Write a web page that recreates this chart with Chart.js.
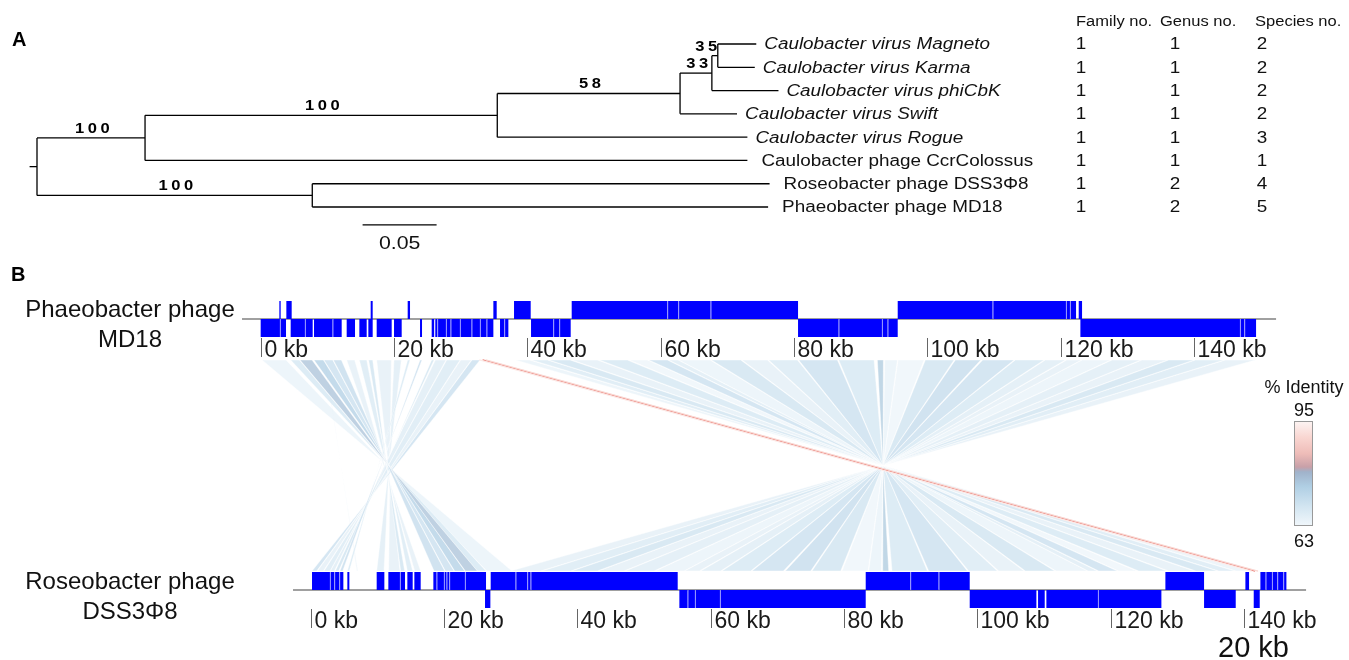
<!DOCTYPE html>
<html>
<head>
<meta charset="utf-8">
<script src="https://cdn.jsdelivr.net/npm/chart.js@4.4.0/dist/chart.umd.min.js"></script>
<style>
  html, body { margin: 0; padding: 0; background: #fff; }
  #wrap { width: 1349px; height: 660px; }
</style>
</head>
<body>
<div id="wrap"><canvas id="fig" width="1349" height="660"></canvas></div>
<script>
// ---------- panel A : tree ----------
const taxa = [
  "Caulobacter virus Magneto", "Caulobacter virus Karma", "Caulobacter virus phiCbK",
  "Caulobacter virus Swift", "Caulobacter virus Rogue", "Caulobacter phage CcrColossus",
  "Roseobacter phage DSS3\u03A68", "Phaeobacter phage MD18"
];
const tipLen = [0.486, 0.485, 0.501, 0.473, 0.480, 0.480, 0.495, 0.494];
// internal nodes get ids 8..14, children listed by id
const nodeKids = [[0, 1], [8, 2], [9, 3], [10, 4], [11, 5], [6, 7], [12, 13]];
const nodeDist = [0.460, 0.456, 0.4345, 0.311, 0.073, 0.186, 0];
const nodeBoot = [35, 33, 58, 100, 100, 100, null];
const scaleBar = [0.22, 0.27];
const tableHead = ["Family no.", "Genus no.", "Species no."];
const familyNo = [1, 1, 1, 1, 1, 1, 1, 1];
const genusNo = [1, 1, 1, 1, 1, 1, 2, 2];
const speciesNo = [2, 2, 2, 2, 3, 1, 4, 5];

// ---------- panel B : genome alignment (kb) ----------
const kbTicks = [0, 20, 40, 60, 80, 100, 120, 140];
const md18Span = [-2.8, 152.3];
const dssSpan = [-2.65, 149.3];
const md18Fwd = [[2.8, 3.0], [3.85, 4.65], [16.5, 16.8], [22.05, 22.4], [34.9, 35.4], [38.0, 40.5],
  [46.65, 61.0], [61.05, 62.65], [62.7, 67.5], [67.55, 80.6], [95.55, 109.8], [109.85, 120.8],
  [120.85, 121.4], [121.45, 122.3], [122.7, 123.2]];
const md18Rev = [[0, 2.9], [2.95, 3.8], [4.5, 6.65], [6.7, 7.8], [8.0, 10.8], [10.85, 12.15],
  [12.9, 14.15], [14.8, 15.9], [16.15, 16.8], [17.4, 19.65], [20.0, 21.15], [23.9, 24.2],
  [25.65, 26.0], [26.15, 26.5], [26.55, 27.8], [27.85, 28.5], [28.55, 29.9], [29.95, 31.65],
  [31.7, 32.9], [32.95, 33.9], [33.95, 34.9], [35.9, 36.55], [36.6, 37.15], [40.55, 43.9],
  [43.95, 44.8], [44.85, 46.5], [80.6, 86.7], [86.75, 93.2], [93.25, 94.05], [94.1, 95.55],
  [122.95, 146.9], [146.95, 147.55], [147.6, 149.3]];
const dssFwd = [[0.2, 2.9], [2.95, 3.55], [3.6, 4.3], [4.35, 4.9], [5.5, 5.8], [9.9, 11.05],
  [11.65, 13.4], [13.45, 14.15], [14.5, 15.3], [15.55, 16.5], [18.4, 18.9], [18.95, 20.0],
  [20.05, 20.4], [20.45, 20.8], [20.85, 23.15], [23.2, 26.3], [27.0, 30.75], [30.8, 32.5],
  [32.55, 33.0], [33.05, 55.05], [83.25, 89.95], [90.0, 94.2], [94.25, 98.85], [128.2, 134.0],
  [140.2, 140.75], [142.45, 143.25], [143.3, 144.2], [144.25, 145.0], [145.05, 145.9], [145.95, 146.35]];
const dssRev = [[26.15, 26.95], [55.3, 56.55], [56.6, 57.65], [57.7, 61.4], [61.45, 83.25],
  [98.85, 108.85], [109.1, 110.1], [110.35, 118.1], [118.15, 127.6], [134.0, 138.75], [141.45, 142.35]];

// links: MD18 region -> DSS3Φ8 region (inverted), % identity
const linkMd18 = [
  [0.2, 3.8], [4.5, 5.8], [5.9, 7.7], [8.0, 9.4], [9.5, 10.8], [10.9, 12.1], [12.9, 14.1], [14.8, 15.9],
  [16.2, 16.8], [17.4, 19.6], [20.0, 21.1], [22.05, 22.4], [23.9, 24.2], [25.65, 26.0], [26.2, 27.8],
  [27.9, 29.9], [30.0, 31.6], [31.7, 32.9], [9.5, 9.7],
  [32.8, 32.95], [33.3, 33.45], [33.75, 33.9],
  [38.2, 40.3], [40.6, 43.0], [43.2, 46.4], [46.7, 50.5], [50.8, 55.0], [55.3, 58.0], [58.2, 61.0],
  [61.2, 62.6], [62.7, 67.4], [67.6, 72.0], [72.2, 76.0], [76.2, 80.5], [80.7, 86.5], [86.7, 92.0],
  [92.5, 93.4], [93.6, 95.5], [95.6, 99.5], [99.7, 104.0], [104.2, 108.0], [108.3, 113.0],
  [113.2, 117.5], [117.7, 120.7], [120.9, 123.1], [123.2, 127.5], [127.7, 132.0], [132.2, 136.0],
  [136.2, 140.0], [140.2, 144.5], [144.7, 149.2]
];
const linkDss = [
  [26.4, 30.2], [25.0, 26.3], [23.2, 25.0], [21.6, 23.1], [20.2, 21.5], [18.5, 20.1], [15.6, 16.5], [14.5, 15.3],
  [13.5, 14.1], [11.7, 13.4], [9.9, 11.0], [5.5, 5.8], [4.4, 4.8], [3.7, 4.2], [2.95, 3.55],
  [2.0, 2.9], [1.0, 1.9], [0.2, 0.9], [6.9, 7.1],
  [141.0, 141.15], [141.5, 141.65], [141.95, 142.1],
  [138.8, 140.8], [136.2, 138.6], [132.8, 136.0], [128.7, 132.5], [124.2, 128.4], [121.2, 123.9], [118.2, 121.0],
  [116.6, 118.0], [111.8, 116.5], [107.2, 111.6], [103.2, 107.0], [98.7, 103.0], [92.7, 98.5], [87.2, 92.5],
  [85.8, 86.7], [83.7, 85.6], [79.7, 83.6], [75.2, 79.5], [71.2, 75.0], [66.2, 70.9],
  [61.7, 66.0], [58.5, 61.5], [56.1, 58.3], [51.7, 56.0], [47.2, 51.5], [43.2, 47.0],
  [39.2, 43.0], [34.7, 39.0], [30.0, 34.5]
];
const linkIdent = [
  65, 69, 77, 75, 71, 72, 66, 68, 70, 66, 67, 69, 72, 70, 67, 68, 66, 71, 64,
  93, 86, 90,
  65, 68, 70, 66, 69, 64, 71, 67, 65, 70, 66, 68, 71, 69, 76, 65, 64, 70, 72, 71, 69, 67, 66, 65, 67, 66, 70, 68, 66
];
const identRange = [63, 95];

// ---------- styling ----------
const FONT = '"Liberation Sans", Arial, Helvetica, sans-serif';
const identStops = [[63, [241, 247, 251]], [69, [210, 229, 241]], [75, [176, 207, 228]], [79.5, [160, 178, 202]],
  [81, [200, 160, 168]], [85, [238, 188, 184]], [90, [249, 214, 209]], [95, [253, 245, 244]]];
const SX = 1.18; // panel A text is drawn a bit wide, as in the source figure

function identColor(v, dark) {
  let c = identStops[identStops.length - 1][1];
  for (let i = 0; i < identStops.length - 1; i++) {
    const [a, ca] = identStops[i], [b, cb] = identStops[i + 1];
    if (v >= a && v <= b) {
      const t = (v - a) / (b - a);
      c = ca.map((x, k) => Math.round(x + (cb[k] - x) * t));
      break;
    }
  }
  if (dark) c = [c[0] - 8, Math.round(c[1] * 0.62), Math.round(c[2] * 0.58)];
  return `rgb(${c[0]},${c[1]},${c[2]})`;
}

function txt(ctx, s, x, y, size, o = {}) {
  ctx.save();
  ctx.font = `${o.style || ''} ${o.weight || ''} ${size}px ${FONT}`;
  ctx.fillStyle = o.color || '#000';
  ctx.textAlign = o.align || 'left';
  ctx.textBaseline = o.base || 'alphabetic';
  if (o.spacing) ctx.letterSpacing = o.spacing + 'px';
  ctx.translate(x, y);
  ctx.scale(o.sx || 1, 1);
  ctx.fillText(s, 0, 0);
  ctx.restore();
}

// ---------- tree layout ----------
const nTip = taxa.length;
const depth = tipLen.concat(nodeDist);
const ypos = taxa.map((_, i) => i);
const parent = [];
nodeKids.forEach((kids, k) => {
  const ys = kids.map(c => ypos[c]);
  ypos[nTip + k] = (Math.min(...ys) + Math.max(...ys)) / 2;
  kids.forEach(c => { parent[c] = nTip + k; });
});
const rootId = nTip + nodeKids.length - 1;
const segs = [];
nodeKids.forEach((kids, k) => {
  const id = nTip + k;
  const ys = kids.map(c => ypos[c]);
  segs.push([depth[id], Math.min(...ys), depth[id], Math.max(...ys)]);
  kids.forEach(c => segs.push([depth[id], ypos[c], depth[c], ypos[c]]));
});
segs.push([depth[rootId] - 0.005, ypos[rootId], depth[rootId], ypos[rootId]]);

const lineDs = (pts) => ({
  data: pts, showLine: true, borderColor: '#000', borderWidth: 1.3,
  pointRadius: 0, xAxisID: 'xTree', yAxisID: 'yTree'
});
const datasets = segs.map(s => lineDs([{ x: s[0], y: s[1] }, { x: s[2], y: s[3] }]));
datasets.push(lineDs([{ x: scaleBar[0], y: 7.77 }, { x: scaleBar[1], y: 7.77 }]));

// ---------- drawing plugins ----------
const syntenyPlugin = {
  id: 'synteny',
  beforeDatasetsDraw(chart) {
    const ctx = chart.ctx;
    const { xTop, xBot, yGen } = chart.scales;
    const topY = yGen.getPixelForValue(1), botY = yGen.getPixelForValue(0);
    const rTop = topY + 41, rBot = botY - 19;

    // links, higher identity drawn on top
    const order = linkIdent.map((v, i) => i).sort((a, b) => linkIdent[a] - linkIdent[b]);
    order.forEach(i => {
      const m = linkMd18[i], d = linkDss[i], id = linkIdent[i];
      ctx.save();
      ctx.beginPath();
      ctx.moveTo(xTop.getPixelForValue(m[0]), rTop);
      ctx.lineTo(xTop.getPixelForValue(m[1]), rTop);
      ctx.lineTo(xBot.getPixelForValue(d[0]), rBot);
      ctx.lineTo(xBot.getPixelForValue(d[1]), rBot);
      ctx.closePath();
      if (id > 81) {
        ctx.globalAlpha = 0.95;
        ctx.strokeStyle = identColor(id, id < 90);
        ctx.lineWidth = 0.9;
        ctx.stroke();
      } else {
        ctx.globalAlpha = 0.75;
        ctx.fillStyle = identColor(id);
        ctx.fill();
        ctx.globalAlpha = 0.7;
        ctx.strokeStyle = '#fff';
        ctx.lineWidth = 0.6;
        ctx.stroke();
      }
      ctx.restore();
    });

    const genome = (scale, axisY, span, fwd, rev) => {
      ctx.save();
      ctx.strokeStyle = '#808080';
      ctx.lineWidth = 1.5;
      ctx.beginPath();
      ctx.moveTo(scale.getPixelForValue(span[0]), axisY);
      ctx.lineTo(scale.getPixelForValue(span[1]), axisY);
      ctx.stroke();
      [[fwd, axisY - 18], [rev, axisY]].forEach(([genes, y0]) => {
        genes.forEach((g, i) => {
          const x1 = scale.getPixelForValue(g[0]), x2 = scale.getPixelForValue(g[1]);
          ctx.fillStyle = '#0000ff';
          ctx.fillRect(x1, y0, Math.max(x2 - x1, 1), 18);
          if (i > 0 && g[0] - genes[i - 1][1] < 0.2) {
            ctx.fillStyle = 'rgba(170,170,255,0.8)';
            ctx.fillRect(x1 - 0.5, y0, 1, 18);
          }
        });
      });
      kbTicks.forEach(v => {
        const x = Math.round(scale.getPixelForValue(v)) + 0.5;
        ctx.strokeStyle = '#666';
        ctx.lineWidth = 1;
        ctx.beginPath();
        ctx.moveTo(x, axisY + 19);
        ctx.lineTo(x, axisY + 38);
        ctx.stroke();
        txt(ctx, v + ' kb', x + 3, axisY + 38, 23, { color: '#1a1a1a' });
      });
      ctx.restore();
    };
    genome(xTop, topY, md18Span, md18Fwd, md18Rev);
    genome(xBot, botY, dssSpan, dssFwd, dssRev);

    txt(ctx, 'Phaeobacter phage', 130, topY - 2, 24, { align: 'center', color: '#111' });
    txt(ctx, 'MD18', 130, topY + 28, 24, { align: 'center', color: '#111' });
    txt(ctx, 'Roseobacter phage', 130, botY - 1, 24, { align: 'center', color: '#111' });
    txt(ctx, 'DSS3\u03A68', 130, botY + 29, 24, { align: 'center', color: '#111' });
    txt(ctx, '20 kb', 1218, 657, 29, { color: '#111' });

    // identity legend
    const lx = 1294, ly = 421, lw = 19, lh = 105;
    const grad = ctx.createLinearGradient(0, ly, 0, ly + lh);
    identStops.forEach(([v, c]) => {
      grad.addColorStop((identRange[1] - v) / (identRange[1] - identRange[0]), `rgb(${c[0]},${c[1]},${c[2]})`);
    });
    ctx.fillStyle = grad;
    ctx.fillRect(lx, ly, lw, lh);
    ctx.strokeStyle = '#999';
    ctx.lineWidth = 1;
    ctx.strokeRect(lx + 0.5, ly + 0.5, lw - 1, lh - 1);
    txt(ctx, '% Identity', 1304, 393, 18, { align: 'center', color: '#111' });
    txt(ctx, String(identRange[1]), 1304, 416, 18, { align: 'center', color: '#111' });
    txt(ctx, String(identRange[0]), 1304, 547, 18, { align: 'center', color: '#111' });

    txt(ctx, 'A', 12, 46, 20, { weight: 'bold' });
    txt(ctx, 'B', 11, 281, 20, { weight: 'bold' });
  },
  afterDatasetsDraw(chart) {
    const ctx = chart.ctx;
    const { xTree, yTree } = chart.scales;
    const px = v => xTree.getPixelForValue(v), py = v => yTree.getPixelForValue(v);

    const colX = [1081, 1175, 1262];
    taxa.forEach((name, i) => {
      const italic = name.startsWith('Caulobacter virus');
      txt(ctx, name, px(depth[i]) + (italic ? 8 : 14), py(i) + 1, 16,
        { style: italic ? 'italic' : '', base: 'middle', color: '#111', sx: SX });
      [familyNo, genusNo, speciesNo].forEach((col, c) => {
        txt(ctx, String(col[i]), colX[c], py(i) + 1, 16, { align: 'center', base: 'middle', color: '#111', sx: SX });
      });
    });
    const headX = [1076, 1160, 1255];
    tableHead.forEach((h, c) => txt(ctx, h, headX[c], 26, 14, { color: '#111', sx: SX }));

    nodeBoot.forEach((b, k) => {
      if (b == null) return;
      const id = nTip + k;
      const x0 = px(depth[parent[id]]), x1 = px(depth[id]);
      ctx.save();
      ctx.font = `bold 14px ${FONT}`;
      ctx.letterSpacing = '3px';
      const w = ctx.measureText(String(b)).width * SX;
      ctx.restore();
      const cx = Math.min((x0 + x1) / 2, x1 - w / 2);
      txt(ctx, String(b), cx + 3, py(ypos[id]) - 5, 14, { weight: 'bold', align: 'center', spacing: 3, sx: SX });
    });
    txt(ctx, '0.05', (px(scaleBar[0]) + px(scaleBar[1])) / 2, 249, 19, { align: 'center', color: '#111', sx: 1.12 });
  }
};

const hidden = (min, max, extra = {}) => Object.assign({ type: 'linear', display: false, min, max }, extra);

new Chart(document.getElementById('fig'), {
  type: 'scatter',
  data: { datasets },
  options: {
    responsive: false,
    animation: false,
    devicePixelRatio: 1,
    layout: { padding: 0 },
    plugins: { legend: { display: false }, tooltip: { enabled: false } },
    scales: {
      x: hidden(0, 1),
      y: hidden(0, 1),
      xTree: hidden(-0.025, 0.8865),
      yTree: hidden(-1.889, 26.45, { reverse: true }),
      xTop: hidden(-39.10, 163.24),
      xBot: hidden(-46.60, 155.74),
      yGen: hidden(-0.2583, 2.1771)
    }
  },
  plugins: [syntenyPlugin]
});
</script>
</body>
</html>
